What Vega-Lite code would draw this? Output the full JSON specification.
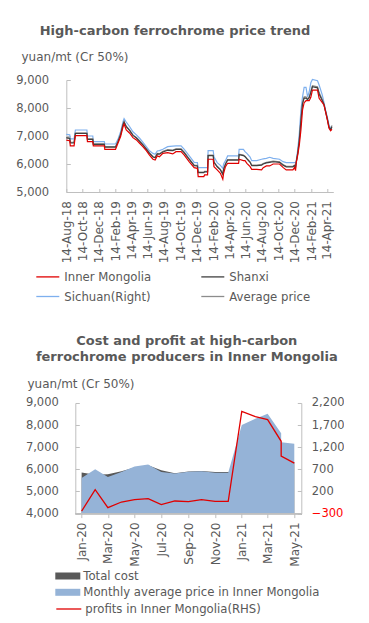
{
  "$schema": "https://vega.github.io/schema/vega-lite/v6.json",
  "padding": {"left": 15.3, "top": 25, "right": 0, "bottom": 0},
  "config": {
    "font": "DejaVu Sans",
    "view": {"stroke": null},
    "axis": {"grid": false, "labelColor": "#595959", "domainColor": "#bfbfbf", "tickColor": "#bfbfbf", "labelFont": "DejaVu Sans", "titleFont": "DejaVu Sans"},
    "legend": {"labelColor": "#595959", "labelFont": "DejaVu Sans", "labelFontSize": 11.7, "padding": 0, "labelLimit": 400},
    "title": {"color": "#595959", "fontSize": 13, "fontWeight": "bold", "font": "DejaVu Sans"}
  },
  "resolve": {
    "scale": {"color": "independent", "fill": "independent", "stroke": "independent"},
    "legend": {"color": "independent", "fill": "independent", "stroke": "independent"}
  },
  "concat": [
    {
      "title": {"text": "High-carbon ferrochrome price trend", "frame": "bounds", "anchor": "middle", "offset": 12},
      "width": 267,
      "height": 112,
      "data": {"values": [
        {"d":"2018-08-14","Inner Mongolia":6850,"Shanxi":6930,"Sichuan(Right)":7060,"Average price":6950},
        {"d":"2018-08-27","Inner Mongolia":6830,"Shanxi":6910,"Sichuan(Right)":7040,"Average price":6930},
        {"d":"2018-08-29","Inner Mongolia":6650,"Shanxi":6750,"Sichuan(Right)":6900,"Average price":6770},
        {"d":"2018-09-12","Inner Mongolia":6650,"Shanxi":6750,"Sichuan(Right)":6900,"Average price":6770},
        {"d":"2018-09-17","Inner Mongolia":7010,"Shanxi":7090,"Sichuan(Right)":7215,"Average price":7110},
        {"d":"2018-10-30","Inner Mongolia":7010,"Shanxi":7090,"Sichuan(Right)":7215,"Average price":7110},
        {"d":"2018-11-01","Inner Mongolia":6800,"Shanxi":6880,"Sichuan(Right)":7000,"Average price":6900},
        {"d":"2018-11-21","Inner Mongolia":6800,"Shanxi":6880,"Sichuan(Right)":7000,"Average price":6900},
        {"d":"2018-11-23","Inner Mongolia":6645,"Shanxi":6700,"Sichuan(Right)":6800,"Average price":6720},
        {"d":"2019-01-03","Inner Mongolia":6645,"Shanxi":6700,"Sichuan(Right)":6800,"Average price":6720},
        {"d":"2019-01-05","Inner Mongolia":6525,"Shanxi":6600,"Sichuan(Right)":6715,"Average price":6620},
        {"d":"2019-02-14","Inner Mongolia":6525,"Shanxi":6600,"Sichuan(Right)":6715,"Average price":6620},
        {"d":"2019-02-23","Inner Mongolia":6740,"Shanxi":6790,"Sichuan(Right)":6880,"Average price":6810},
        {"d":"2019-03-05","Inner Mongolia":6980,"Shanxi":7050,"Sichuan(Right)":7155,"Average price":7070},
        {"d":"2019-03-14","Inner Mongolia":7330,"Shanxi":7400,"Sichuan(Right)":7510,"Average price":7420},
        {"d":"2019-03-18","Inner Mongolia":7430,"Shanxi":7500,"Sichuan(Right)":7620,"Average price":7520},
        {"d":"2019-03-26","Inner Mongolia":7215,"Shanxi":7330,"Sichuan(Right)":7500,"Average price":7350},
        {"d":"2019-04-08","Inner Mongolia":7100,"Shanxi":7190,"Sichuan(Right)":7330,"Average price":7210},
        {"d":"2019-04-20","Inner Mongolia":6940,"Shanxi":7020,"Sichuan(Right)":7150,"Average price":7040},
        {"d":"2019-05-03","Inner Mongolia":6860,"Shanxi":6930,"Sichuan(Right)":7040,"Average price":6950},
        {"d":"2019-05-15","Inner Mongolia":6740,"Shanxi":6810,"Sichuan(Right)":6920,"Average price":6830},
        {"d":"2019-05-27","Inner Mongolia":6620,"Shanxi":6680,"Sichuan(Right)":6780,"Average price":6700},
        {"d":"2019-06-09","Inner Mongolia":6480,"Shanxi":6530,"Sichuan(Right)":6620,"Average price":6550},
        {"d":"2019-06-21","Inner Mongolia":6320,"Shanxi":6380,"Sichuan(Right)":6470,"Average price":6400},
        {"d":"2019-07-04","Inner Mongolia":6170,"Shanxi":6250,"Sichuan(Right)":6380,"Average price":6270},
        {"d":"2019-07-12","Inner Mongolia":6140,"Shanxi":6220,"Sichuan(Right)":6345,"Average price":6240},
        {"d":"2019-07-20","Inner Mongolia":6290,"Shanxi":6360,"Sichuan(Right)":6465,"Average price":6380},
        {"d":"2019-07-28","Inner Mongolia":6260,"Shanxi":6350,"Sichuan(Right)":6480,"Average price":6370},
        {"d":"2019-08-10","Inner Mongolia":6380,"Shanxi":6430,"Sichuan(Right)":6525,"Average price":6450},
        {"d":"2019-08-28","Inner Mongolia":6405,"Shanxi":6490,"Sichuan(Right)":6620,"Average price":6510},
        {"d":"2019-09-16","Inner Mongolia":6360,"Shanxi":6480,"Sichuan(Right)":6640,"Average price":6500},
        {"d":"2019-09-28","Inner Mongolia":6440,"Shanxi":6520,"Sichuan(Right)":6645,"Average price":6540},
        {"d":"2019-10-17","Inner Mongolia":6440,"Shanxi":6520,"Sichuan(Right)":6645,"Average price":6540},
        {"d":"2019-10-29","Inner Mongolia":6320,"Shanxi":6400,"Sichuan(Right)":6525,"Average price":6420},
        {"d":"2019-11-16","Inner Mongolia":6085,"Shanxi":6170,"Sichuan(Right)":6300,"Average price":6190},
        {"d":"2019-12-05","Inner Mongolia":5870,"Shanxi":5940,"Sichuan(Right)":6060,"Average price":5960},
        {"d":"2019-12-17","Inner Mongolia":5845,"Shanxi":5930,"Sichuan(Right)":6050,"Average price":5950},
        {"d":"2019-12-20","Inner Mongolia":5550,"Shanxi":5690,"Sichuan(Right)":5870,"Average price":5710},
        {"d":"2020-01-10","Inner Mongolia":5550,"Shanxi":5690,"Sichuan(Right)":5870,"Average price":5710},
        {"d":"2020-01-13","Inner Mongolia":5610,"Shanxi":5720,"Sichuan(Right)":5870,"Average price":5740},
        {"d":"2020-01-24","Inner Mongolia":5610,"Shanxi":5720,"Sichuan(Right)":5870,"Average price":5740},
        {"d":"2020-01-26","Inner Mongolia":6170,"Shanxi":6300,"Sichuan(Right)":6480,"Average price":6320},
        {"d":"2020-02-14","Inner Mongolia":6170,"Shanxi":6300,"Sichuan(Right)":6480,"Average price":6320},
        {"d":"2020-02-17","Inner Mongolia":5905,"Shanxi":6060,"Sichuan(Right)":6260,"Average price":6080},
        {"d":"2020-02-29","Inner Mongolia":5790,"Shanxi":5900,"Sichuan(Right)":6050,"Average price":5920},
        {"d":"2020-03-12","Inner Mongolia":5670,"Shanxi":5790,"Sichuan(Right)":5950,"Average price":5810},
        {"d":"2020-03-21","Inner Mongolia":5455,"Shanxi":5630,"Sichuan(Right)":5845,"Average price":5650},
        {"d":"2020-03-24","Inner Mongolia":5670,"Shanxi":5810,"Sichuan(Right)":6000,"Average price":5830},
        {"d":"2020-03-31","Inner Mongolia":5905,"Shanxi":5990,"Sichuan(Right)":6120,"Average price":6010},
        {"d":"2020-04-08","Inner Mongolia":6025,"Shanxi":6140,"Sichuan(Right)":6290,"Average price":6160},
        {"d":"2020-05-19","Inner Mongolia":6025,"Shanxi":6140,"Sichuan(Right)":6290,"Average price":6160},
        {"d":"2020-05-21","Inner Mongolia":6170,"Shanxi":6330,"Sichuan(Right)":6525,"Average price":6350},
        {"d":"2020-06-06","Inner Mongolia":6120,"Shanxi":6300,"Sichuan(Right)":6525,"Average price":6320},
        {"d":"2020-06-12","Inner Mongolia":6120,"Shanxi":6260,"Sichuan(Right)":6440,"Average price":6280},
        {"d":"2020-06-19","Inner Mongolia":6025,"Shanxi":6180,"Sichuan(Right)":6380,"Average price":6200},
        {"d":"2020-07-01","Inner Mongolia":5905,"Shanxi":6060,"Sichuan(Right)":6250,"Average price":6080},
        {"d":"2020-07-07","Inner Mongolia":5810,"Shanxi":5940,"Sichuan(Right)":6120,"Average price":5960},
        {"d":"2020-07-26","Inner Mongolia":5810,"Shanxi":5940,"Sichuan(Right)":6120,"Average price":5960},
        {"d":"2020-08-13","Inner Mongolia":5790,"Shanxi":5960,"Sichuan(Right)":6170,"Average price":5980},
        {"d":"2020-08-19","Inner Mongolia":5870,"Shanxi":6000,"Sichuan(Right)":6180,"Average price":6020},
        {"d":"2020-08-31","Inner Mongolia":5930,"Shanxi":6040,"Sichuan(Right)":6200,"Average price":6060},
        {"d":"2020-09-12","Inner Mongolia":5930,"Shanxi":6060,"Sichuan(Right)":6240,"Average price":6080},
        {"d":"2020-09-25","Inner Mongolia":6000,"Shanxi":6080,"Sichuan(Right)":6200,"Average price":6100},
        {"d":"2020-10-19","Inner Mongolia":6000,"Shanxi":6060,"Sichuan(Right)":6170,"Average price":6080},
        {"d":"2020-11-01","Inner Mongolia":5880,"Shanxi":5960,"Sichuan(Right)":6085,"Average price":5980},
        {"d":"2020-11-13","Inner Mongolia":5790,"Shanxi":5900,"Sichuan(Right)":6050,"Average price":5920},
        {"d":"2020-12-08","Inner Mongolia":5790,"Shanxi":5900,"Sichuan(Right)":6050,"Average price":5920},
        {"d":"2020-12-14","Inner Mongolia":5870,"Shanxi":5940,"Sichuan(Right)":6050,"Average price":5960},
        {"d":"2020-12-18","Inner Mongolia":5765,"Shanxi":5880,"Sichuan(Right)":6050,"Average price":5900},
        {"d":"2020-12-20","Inner Mongolia":6025,"Shanxi":6040,"Sichuan(Right)":6085,"Average price":6050},
        {"d":"2020-12-26","Inner Mongolia":6320,"Shanxi":6380,"Sichuan(Right)":6500,"Average price":6400},
        {"d":"2021-01-01","Inner Mongolia":6680,"Shanxi":6850,"Sichuan(Right)":7095,"Average price":6900},
        {"d":"2021-01-07","Inner Mongolia":7215,"Shanxi":7550,"Sichuan(Right)":7930,"Average price":7600},
        {"d":"2021-01-13","Inner Mongolia":7930,"Shanxi":8150,"Sichuan(Right)":8400,"Average price":8200},
        {"d":"2021-01-19","Inner Mongolia":8190,"Shanxi":8350,"Sichuan(Right)":8740,"Average price":8400},
        {"d":"2021-01-26","Inner Mongolia":8260,"Shanxi":8350,"Sichuan(Right)":8740,"Average price":8400},
        {"d":"2021-02-01","Inner Mongolia":8260,"Shanxi":8300,"Sichuan(Right)":8400,"Average price":8330},
        {"d":"2021-02-07","Inner Mongolia":8260,"Shanxi":8370,"Sichuan(Right)":8580,"Average price":8400},
        {"d":"2021-02-13","Inner Mongolia":8380,"Shanxi":8550,"Sichuan(Right)":8900,"Average price":8600},
        {"d":"2021-02-19","Inner Mongolia":8640,"Shanxi":8760,"Sichuan(Right)":9020,"Average price":8800},
        {"d":"2021-03-10","Inner Mongolia":8640,"Shanxi":8720,"Sichuan(Right)":8975,"Average price":8760},
        {"d":"2021-03-16","Inner Mongolia":8345,"Shanxi":8500,"Sichuan(Right)":8820,"Average price":8550},
        {"d":"2021-03-28","Inner Mongolia":8190,"Shanxi":8260,"Sichuan(Right)":8460,"Average price":8300},
        {"d":"2021-04-03","Inner Mongolia":8110,"Shanxi":8130,"Sichuan(Right)":8200,"Average price":8150},
        {"d":"2021-04-09","Inner Mongolia":7870,"Shanxi":7880,"Sichuan(Right)":7930,"Average price":7900},
        {"d":"2021-04-16","Inner Mongolia":7570,"Shanxi":7590,"Sichuan(Right)":7660,"Average price":7600},
        {"d":"2021-04-22","Inner Mongolia":7275,"Shanxi":7310,"Sichuan(Right)":7390,"Average price":7330},
        {"d":"2021-04-28","Inner Mongolia":7190,"Shanxi":7220,"Sichuan(Right)":7275,"Average price":7230},
        {"d":"2021-05-03","Inner Mongolia":7240,"Shanxi":7330,"Sichuan(Right)":7300,"Average price":7380}
      ]},
      "transform": [{"fold": ["Sichuan(Right)", "Average price", "Shanxi", "Inner Mongolia"], "as": ["series", "price"]}],
      "mark": {"type": "line", "strokeWidth": 1.2},
      "encoding": {
        "x": {
          "field": "d", "type": "temporal",
          "scale": {"domain": [{"year": 2018, "month": 8, "date": 14}, {"year": 2021, "month": 5, "date": 8}]},
          "axis": {
            "title": null, "format": "%d-%b-%y", "labelAngle": -90, "labelAlign": "right", "labelBaseline": "middle",
            "labelFontSize": 12, "tickSize": -3.5, "labelPadding": 12, "labelOverlap": false, "labelFlush": false,
            "values": [
              {"year": 2018, "month": 8, "date": 14}, {"year": 2018, "month": 10, "date": 14}, {"year": 2018, "month": 12, "date": 14},
              {"year": 2019, "month": 2, "date": 14}, {"year": 2019, "month": 4, "date": 14}, {"year": 2019, "month": 6, "date": 14},
              {"year": 2019, "month": 8, "date": 14}, {"year": 2019, "month": 10, "date": 14}, {"year": 2019, "month": 12, "date": 14},
              {"year": 2020, "month": 2, "date": 14}, {"year": 2020, "month": 4, "date": 14}, {"year": 2020, "month": 6, "date": 14},
              {"year": 2020, "month": 8, "date": 14}, {"year": 2020, "month": 10, "date": 14}, {"year": 2020, "month": 12, "date": 14},
              {"year": 2021, "month": 2, "date": 14}, {"year": 2021, "month": 4, "date": 14}
            ]
          }
        },
        "y": {
          "field": "price", "type": "quantitative",
          "scale": {"domain": [5000, 9000], "zero": false},
          "axis": {
            "values": [5000, 6000, 7000, 8000, 9000], "format": ",.0f", "labelFontSize": 11.5, "labelOverlap": false,
            "labelAlign": "right", "labelBaseline": "middle",
            "tickSize": -4, "labelPadding": 21.7,
            "title": "yuan/mt (Cr 50%)", "titleAngle": 0, "titleAlign": "left", "titleBaseline": "middle",
            "titleX": -45.3, "titleY": -23.7, "titleFontSize": 12, "titleFontWeight": "normal", "titleColor": "#595959"
          }
        },
        "color": {
          "field": "series", "type": "nominal",
          "scale": {"domain": ["Inner Mongolia", "Shanxi", "Sichuan(Right)", "Average price"], "range": ["#e00000", "#404040", "#7eb0ee", "#8c8c8c"]},
          "legend": {
            "title": null, "orient": "none", "legendX": -31, "legendY": 184, "columns": 2, "direction": "horizontal", "columnPadding": 47,
            "rowPadding": -6, "symbolType": "stroke", "symbolSize": 529, "symbolStrokeWidth": 1.3, "labelOffset": 4
          }
        }
      }
    },
    {
      "title": {"text": ["Cost and profit at high-carbon", "ferrochrome producers in Inner Mongolia"], "frame": "group", "anchor": "middle", "offset": 13, "lineHeight": 16.7, "dx": 3},
      "width": 235,
      "height": 110.6,
      "data": {"values": [
        {"m": "2020-01-01", "cost": 5860, "price": 5610, "profit": -245},
        {"m": "2020-02-01", "cost": 5760, "price": 6000, "profit": 243},
        {"m": "2020-03-01", "cost": 5780, "price": 5660, "profit": -165},
        {"m": "2020-04-01", "cost": 5915, "price": 5880, "profit": -38},
        {"m": "2020-05-01", "cost": 6080, "price": 6130, "profit": 16},
        {"m": "2020-06-01", "cost": 6190, "price": 6220, "profit": 39},
        {"m": "2020-07-01", "cost": 5960, "price": 5880, "profit": -97},
        {"m": "2020-08-01", "cost": 5820, "price": 5810, "profit": -15},
        {"m": "2020-09-01", "cost": 5900, "price": 5890, "profit": -29},
        {"m": "2020-10-01", "cost": 5930, "price": 5920, "profit": 16},
        {"m": "2020-11-01", "cost": 5880, "price": 5850, "profit": -22},
        {"m": "2020-12-01", "cost": 5880, "price": 5850, "profit": -22},
        {"m": "2021-01-01", "cost": 5990, "price": 8010, "profit": 2010},
        {"m": "2021-02-01", "cost": 6390, "price": 8290, "profit": 1890},
        {"m": "2021-03-01", "cost": 6690, "price": 8510, "profit": 1825},
        {"m": "2021-04-01", "cost": 6300, "price": 7630, "profit": 1334},
        {"m": "2021-04-01", "cost": 6200, "price": 7220, "profit": 1002},
        {"m": "2021-05-01", "cost": 6320, "price": 7160, "profit": 840}
      ]},
      "encoding": {
        "x": {
          "field": "m", "type": "temporal",
          "scale": {"domain": [{"year": 2019, "month": 11, "date": 27}, {"year": 2021, "month": 5, "date": 17}]},
          "axis": {
            "title": null, "format": "%b-%y", "labelAngle": -90, "labelAlign": "right", "labelBaseline": "middle",
            "labelFontSize": 12, "tickSize": 4, "labelPadding": 4.4, "labelOverlap": false, "labelFlush": false, "domain": false,
            "values": [
              {"year": 2020, "month": 1, "date": 1}, {"year": 2020, "month": 3, "date": 1}, {"year": 2020, "month": 5, "date": 1},
              {"year": 2020, "month": 7, "date": 1}, {"year": 2020, "month": 9, "date": 1}, {"year": 2020, "month": 11, "date": 1},
              {"year": 2021, "month": 1, "date": 1}, {"year": 2021, "month": 3, "date": 1}, {"year": 2021, "month": 5, "date": 1}
            ]
          }
        }
      },
      "layer": [
        {
          "layer": [
            {
              "mark": {"type": "area", "opacity": 1},
              "encoding": {
                "y": {
                  "field": "cost", "type": "quantitative", "stack": null,
                  "scale": {"domain": [4000, 9000], "zero": false},
                  "axis": {
                    "values": [4000, 5000, 6000, 7000, 8000, 9000], "tickCount": 6, "format": ",.0f", "labelFontSize": 11.5, "labelOverlap": false,
                    "labelAlign": "right", "labelBaseline": "middle",
                    "offset": -9, "tickSize": -4, "labelPadding": 21,
                    "title": "yuan/mt (Cr 50%)", "titleAngle": 0, "titleAlign": "left", "titleBaseline": "middle",
                    "titleX": -48.3, "titleY": -19.7, "titleFontSize": 12, "titleFontWeight": "normal", "titleColor": "#595959"
                  }
                },
                "fill": {
                  "datum": "Total cost",
                  "scale": {"range": ["#595959"]},
                  "legend": {
                    "title": null, "orient": "none", "legendX": -11, "legendY": 160.5,
                    "symbolType": "M-1,-0.28H1V0.28H-1Z", "symbolSize": 625, "symbolStrokeWidth": 0, "labelOffset": 3
                  }
                }
              }
            },
            {
              "mark": {"type": "area", "opacity": 1},
              "encoding": {
                "y": {
                  "field": "price", "type": "quantitative", "stack": null,
                  "scale": {"domain": [4000, 9000], "zero": false},
                  "axis": {
                    "values": [4000, 5000, 6000, 7000, 8000, 9000], "tickCount": 6, "format": ",.0f", "labelFontSize": 11.5, "labelOverlap": false,
                    "labelAlign": "right", "labelBaseline": "middle",
                    "offset": -9, "tickSize": -4, "labelPadding": 21,
                    "title": "yuan/mt (Cr 50%)", "titleAngle": 0, "titleAlign": "left", "titleBaseline": "middle",
                    "titleX": -48.3, "titleY": -19.7, "titleFontSize": 12, "titleFontWeight": "normal", "titleColor": "#595959"
                  }
                },
                "color": {
                  "datum": "Monthly average price in Inner Mongolia",
                  "scale": {"range": ["#95b3d7"]},
                  "legend": {
                    "title": null, "orient": "none", "legendX": -11, "legendY": 176.8,
                    "symbolType": "M-1,-0.28H1V0.28H-1Z", "symbolSize": 625, "symbolStrokeWidth": 0, "labelOffset": 3
                  }
                }
              }
            },
            {
              "mark": {"type": "rule", "color": "#bfbfbf", "strokeWidth": 1},
              "encoding": {
                "x": {"datum": {"year": 2019, "month": 12, "date": 18}, "type": "temporal"},
                "x2": {"datum": {"year": 2021, "month": 5, "date": 17}},
                "y": {
                  "datum": 4000, "type": "quantitative",
                  "scale": {"domain": [4000, 9000], "zero": false},
                  "axis": {
                    "values": [4000, 5000, 6000, 7000, 8000, 9000], "tickCount": 6, "format": ",.0f", "labelFontSize": 11.5, "labelOverlap": false,
                    "labelAlign": "right", "labelBaseline": "middle",
                    "offset": -9, "tickSize": -4, "labelPadding": 21,
                    "title": "yuan/mt (Cr 50%)", "titleAngle": 0, "titleAlign": "left", "titleBaseline": "middle",
                    "titleX": -48.3, "titleY": -19.7, "titleFontSize": 12, "titleFontWeight": "normal", "titleColor": "#595959"
                  }
                }
              }
            }
          ]
        },
        {
          "mark": {"type": "line", "strokeWidth": 1.3},
          "encoding": {
            "y": {
              "field": "profit", "type": "quantitative",
              "scale": {"domain": [-300, 2200], "zero": false},
              "axis": {
                "orient": "right", "values": [-300, 200, 700, 1200, 1700, 2200], "format": ",.0f", "labelFontSize": 11.5, "labelOverlap": false,
                "tickSize": -4, "labelPadding": 14, "title": null,
                "labelColor": {"condition": {"test": "datum.value < 0", "value": "#ff0000"}, "value": "#595959"}
              }
            },
            "stroke": {
              "datum": "profits in Inner Mongolia(RHS)",
              "scale": {"range": ["#e00000"]},
              "legend": {
                "title": null, "orient": "none", "legendX": -11, "legendY": 192.5,
                "symbolType": "stroke", "symbolSize": 625, "symbolStrokeWidth": 1.3, "labelOffset": 3
              }
            }
          }
        }
      ],
      "resolve": {"scale": {"y": "independent"}}
    }
  ],
  "columns": 1,
  "spacing": 30
}
